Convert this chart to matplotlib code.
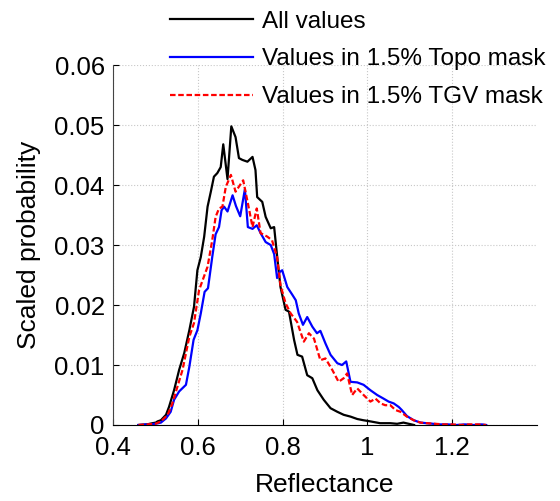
from matplotlib import pyplot as plt

plt.rcParams['font.family'] = ['Liberation Sans', 'DejaVu Sans']

# digitised histograms (reflectance, scaled probability)
all_x = [0.46, 0.48, 0.493, 0.501, 0.505, 0.513, 0.525, 0.532, 0.544, 0.556, 0.568, 0.580,
         0.591, 0.599, 0.607, 0.615, 0.623, 0.631, 0.638, 0.646, 0.654, 0.660, 0.670, 0.679,
         0.689, 0.697, 0.705, 0.717, 0.729, 0.736, 0.740, 0.752, 0.760, 0.772, 0.780, 0.788,
         0.795, 0.807, 0.815, 0.827, 0.835, 0.846, 0.858, 0.870, 0.882, 0.897, 0.913, 0.929,
         0.944, 0.960, 0.976, 0.990, 1.007, 1.030, 1.054, 1.070, 1.085, 1.11]
all_y = [0, 0.0001, 0.0003, 0.0004, 0.0006, 0.0008, 0.0017, 0.003, 0.0058, 0.0092, 0.012, 0.0158,
         0.0197, 0.0258, 0.028, 0.0314, 0.0364, 0.039, 0.0414, 0.042, 0.043, 0.0468, 0.041, 0.0498,
         0.048, 0.0445, 0.0442, 0.0439, 0.0447, 0.0425, 0.038, 0.0372, 0.0347, 0.0328, 0.033, 0.0275,
         0.023, 0.0192, 0.0189, 0.0142, 0.0117, 0.0114, 0.0083, 0.0078, 0.0058, 0.0042, 0.0028, 0.0022,
         0.0017, 0.0014, 0.001, 0.0008, 0.0006, 0.0003, 0.0003, 0.0002, 0.0004, 0]

topo_x = [0.46, 0.50, 0.513, 0.525, 0.536, 0.544, 0.556, 0.572, 0.580, 0.590, 0.599, 0.607,
          0.616, 0.624, 0.634, 0.642, 0.650, 0.656, 0.662, 0.670, 0.682, 0.690, 0.700, 0.711,
          0.718, 0.729, 0.739, 0.748, 0.760, 0.772, 0.780, 0.787, 0.793, 0.799, 0.811, 0.823,
          0.831, 0.838, 0.848, 0.858, 0.870, 0.881, 0.889, 0.901, 0.913, 0.929, 0.940, 0.950,
          0.960, 0.976, 0.991, 1.007, 1.023, 1.038, 1.050, 1.062, 1.074, 1.081, 1.093, 1.109,
          1.125, 1.14, 1.155, 1.17, 1.19, 1.21, 1.23, 1.25, 1.27, 1.28]
topo_y = [0, 0.0002, 0.0004, 0.0011, 0.0022, 0.0042, 0.0056, 0.0067, 0.0097, 0.0142, 0.0158, 0.0186,
          0.0222, 0.0228, 0.028, 0.0318, 0.033, 0.0358, 0.0364, 0.0356, 0.0383, 0.0365, 0.0348, 0.0393,
          0.033, 0.0327, 0.0333, 0.032, 0.0305, 0.030, 0.0285, 0.0245, 0.0255, 0.0258, 0.023, 0.0217,
          0.0208, 0.0186, 0.0167, 0.018, 0.0164, 0.0153, 0.0157, 0.0136, 0.0117, 0.0103, 0.010, 0.0106,
          0.0072, 0.0071, 0.0067, 0.0058, 0.005, 0.0044, 0.0039, 0.0036, 0.003, 0.0025, 0.0015, 0.0008,
          0.0004, 0.0003, 0.0002, 0.0001, 0.0001, 0.0, 0.0001, 0.0, 0.0001, 0]

tgv_x = [0.46, 0.50, 0.513, 0.529, 0.540, 0.552, 0.564, 0.580, 0.591, 0.603, 0.623, 0.634,
         0.642, 0.650, 0.658, 0.666, 0.678, 0.689, 0.707, 0.718, 0.729, 0.739, 0.748, 0.764,
         0.775, 0.787, 0.795, 0.807, 0.819, 0.834, 0.850, 0.862, 0.874, 0.889, 0.901, 0.917,
         0.932, 0.944, 0.952, 0.964, 0.976, 0.991, 1.007, 1.019, 1.031, 1.042, 1.054, 1.066,
         1.078, 1.093, 1.109, 1.125, 1.14, 1.16, 1.18, 1.20, 1.22, 1.24, 1.26, 1.28]
tgv_y = [0, 0.0002, 0.0006, 0.0017, 0.0036, 0.0064, 0.0092, 0.0147, 0.017, 0.0225, 0.0264, 0.0308,
         0.0347, 0.0361, 0.0364, 0.0397, 0.0417, 0.0389, 0.0408, 0.037, 0.033, 0.0361, 0.032, 0.0314,
         0.0308, 0.028, 0.0233, 0.0203, 0.0186, 0.0172, 0.0139, 0.0153, 0.0144, 0.0108, 0.0111, 0.0092,
         0.0072, 0.0078, 0.0086, 0.005, 0.0061, 0.005, 0.0039, 0.0044, 0.0036, 0.0033, 0.0033, 0.0025,
         0.0022, 0.0014, 0.0008, 0.0004, 0.0003, 0.0002, 0.0001, 0.0001, 0.0, 0.0001, 0.0001, 0]

x_ticks = [0.4, 0.6, 0.8, 1.0, 1.2]
x_labels = ['0.4', '0.6', '0.8', '1', '1.2']
y_ticks = [0, 0.01, 0.02, 0.03, 0.04, 0.05, 0.06]
y_labels = ['0', '0.01', '0.02', '0.03', '0.04', '0.05', '0.06']

fig = plt.figure(figsize=(5.6, 5.01), dpi=100)
ax = fig.add_axes([0.2018, 0.1517, 0.7572, 0.7183])

l1, = ax.plot(all_x, all_y, color='k', lw=1.6)
l2, = ax.plot(topo_x, topo_y, color='#0000ff', lw=1.6)
l3, = ax.plot(tgv_x, tgv_y, color='#ff0000', lw=1.6, ls=(0, (2.5, 1.2)))

ax.set_xlim(0.4, 1.4)
ax.set_ylim(0, 0.06)
ax.set_xticks(x_ticks)
ax.set_xticklabels(x_labels)
ax.set_yticks(y_ticks)
ax.set_yticklabels(y_labels)
ax.tick_params(direction='in', length=4, labelsize=18.5)
ax.tick_params(axis='x', pad=8)
ax.tick_params(axis='y', pad=6)
ax.grid(True, ls=':', color='#c8c8c8', lw=0.8)
ax.spines['top'].set_visible(False)
ax.spines['right'].set_visible(False)
ax.spines['left'].set_color('#444444')

ax.set_xlabel('Reflectance', fontsize=19, labelpad=9)
ax.set_ylabel('Scaled probability', fontsize=19, labelpad=10)

fig.legend((l1, l2, l3), ('All values', 'Values in 1.5% Topo mask', 'Values in 1.5% TGV mask'),
           loc='upper left', bbox_to_anchor=(0.3036, 0.979), frameon=False, fontsize=17.5,
           handlelength=3.4, handletextpad=0.4, labelspacing=0.65, borderpad=0,
           borderaxespad=0)

plt.savefig('out.png', dpi=100)
